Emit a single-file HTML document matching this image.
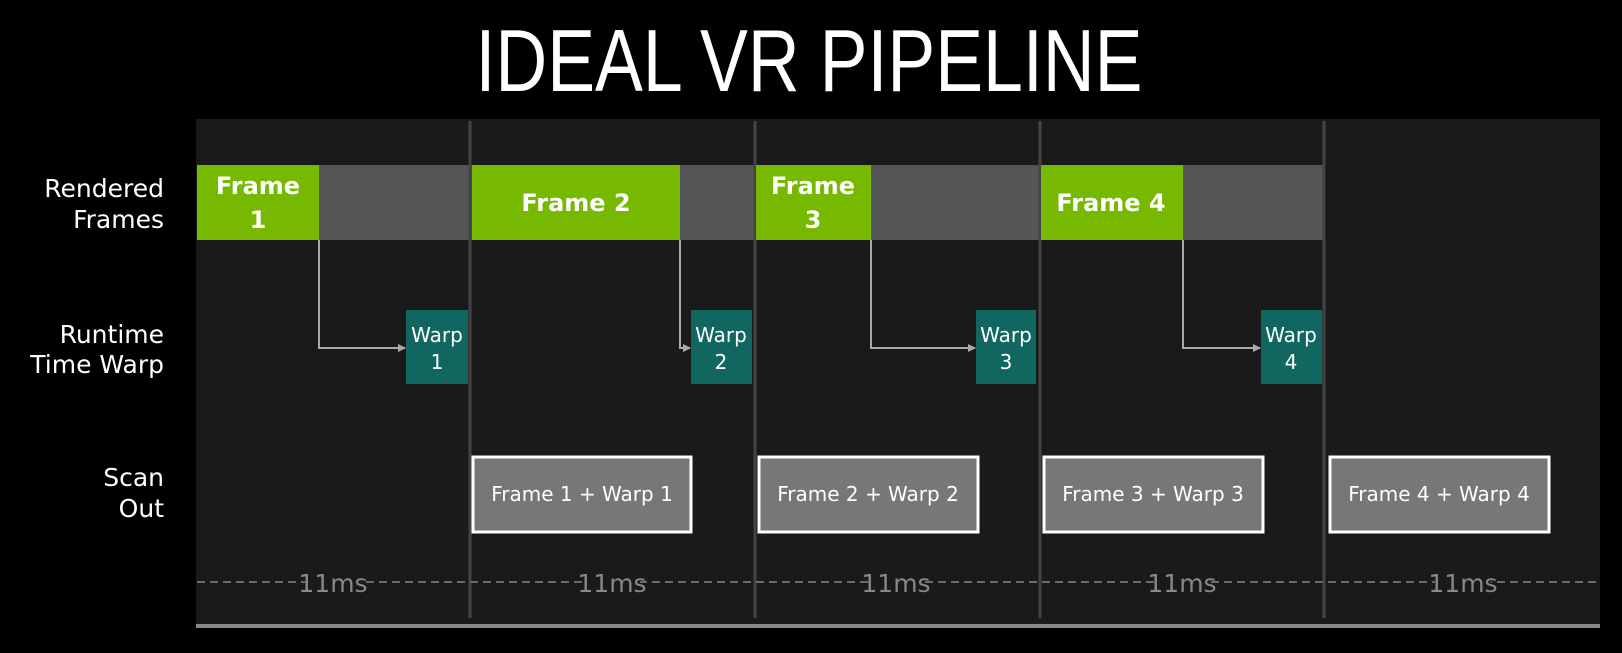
<!DOCTYPE html>
<html><head><meta charset="utf-8"><style>
html,body{margin:0;padding:0;background:#000;}
svg{display:block;}
text{font-family:"DejaVu Sans","Liberation Sans",sans-serif;}
</style></head><body>
<svg width="1622" height="653" viewBox="0 0 1622 653" xmlns="http://www.w3.org/2000/svg">
<defs>
<pattern id="tex" width="4" height="4" patternUnits="userSpaceOnUse">
<rect width="4" height="4" fill="#555"/><rect width="1" height="1" fill="#606060"/><rect x="2" y="2" width="1" height="1" fill="#4c4c4c"/>
</pattern>
<marker id="ah" markerWidth="8" markerHeight="8" refX="7" refY="4" orient="auto" markerUnits="userSpaceOnUse"><path d="M0,0 L8,4 L0,8 Z" fill="#aaa"/></marker>
</defs>
<rect width="1622" height="653" fill="#000"/>
<text x="809" y="91" text-anchor="middle" fill="#fff" font-size="88" textLength="667" lengthAdjust="spacingAndGlyphs" style="font-family:'Liberation Sans',sans-serif">IDEAL VR PIPELINE</text>

<rect x="196" y="119" width="1404" height="507" fill="#1a1a1a"/>
<rect x="196" y="624" width="1404" height="4" fill="#888"/>

<!-- row labels -->
<g fill="#fff" font-size="25" text-anchor="end">
<text x="164" y="197">Rendered</text><text x="164" y="228">Frames</text>
<text x="164" y="343">Runtime</text><text x="164" y="373">Time Warp</text>
<text x="164" y="486">Scan</text><text x="164" y="517">Out</text>
</g>

<!-- rendered row -->
<rect x="319" y="165" width="1004" height="75" fill="url(#tex)"/>
<g fill="#76b900">
<rect x="197" y="165" width="122" height="75"/>
<rect x="472" y="165" width="208" height="75"/>
<rect x="756" y="165" width="115" height="75"/>
<rect x="1041" y="165" width="142" height="75"/>
</g>
<g fill="#fff" font-size="24" font-weight="bold" text-anchor="middle">
<text x="258" y="194">Frame</text><text x="258" y="228">1</text>
<text x="576" y="211">Frame 2</text>
<text x="813" y="194">Frame</text><text x="813" y="228">3</text>
<text x="1111" y="211">Frame 4</text>
</g>

<!-- vertical separators -->
<g stroke="#444" stroke-width="3">
<line x1="470" y1="121" x2="470" y2="618"/>
<line x1="755" y1="121" x2="755" y2="618"/>
<line x1="1040" y1="121" x2="1040" y2="618"/>
<line x1="1324" y1="121" x2="1324" y2="618"/>
</g>
<!-- redraw green over separators where needed -->
<rect x="472" y="165" width="208" height="75" fill="#76b900"/>
<rect x="756" y="165" width="115" height="75" fill="#76b900"/>
<rect x="1041" y="165" width="142" height="75" fill="#76b900"/>
<g fill="#fff" font-size="24" font-weight="bold" text-anchor="middle">
<text x="576" y="211">Frame 2</text>
<text x="813" y="194">Frame</text><text x="813" y="228">3</text>
<text x="1111" y="211">Frame 4</text>
</g>

<!-- connectors -->
<g stroke="#aaa" stroke-width="2" fill="none">
<path d="M319,240 V348 H405" marker-end="url(#ah)"/>
<path d="M680,240 V348 H690" marker-end="url(#ah)"/>
<path d="M871,240 V348 H975" marker-end="url(#ah)"/>
<path d="M1183,240 V348 H1260" marker-end="url(#ah)"/>
</g>

<!-- warp boxes -->
<g fill="#116660">
<rect x="406" y="310" width="62" height="74"/>
<rect x="691" y="310" width="61" height="74"/>
<rect x="976" y="310" width="60" height="74"/>
<rect x="1261" y="310" width="61" height="74"/>
</g>
<g fill="#fff" font-size="20" text-anchor="middle">
<text x="437" y="342">Warp</text><text x="437" y="369">1</text>
<text x="721" y="342">Warp</text><text x="721" y="369">2</text>
<text x="1006" y="342">Warp</text><text x="1006" y="369">3</text>
<text x="1291" y="342">Warp</text><text x="1291" y="369">4</text>
</g>

<!-- scan out -->
<g fill="#777" stroke="#fff" stroke-width="3">
<rect x="473" y="457" width="218" height="75"/>
<rect x="759" y="457" width="219" height="75"/>
<rect x="1044" y="457" width="219" height="75"/>
<rect x="1330" y="457" width="219" height="75"/>
</g>
<g fill="#fff" font-size="20" text-anchor="middle">
<text x="582" y="501">Frame 1 + Warp 1</text>
<text x="868" y="501">Frame 2 + Warp 2</text>
<text x="1153" y="501">Frame 3 + Warp 3</text>
<text x="1439" y="501">Frame 4 + Warp 4</text>
</g>

<!-- timeline -->
<line x1="197" y1="582" x2="1598" y2="582" stroke="#6a6a6a" stroke-width="2" stroke-dasharray="8,5"/>
<g fill="#1a1a1a">
<rect x="305" y="568" width="56" height="28"/>
<rect x="584" y="568" width="56" height="28"/>
<rect x="868" y="568" width="56" height="28"/>
<rect x="1154" y="568" width="56" height="28"/>
<rect x="1435" y="568" width="56" height="28"/>
</g>
<g fill="#888" font-size="25" text-anchor="middle">
<text x="333" y="592">11ms</text>
<text x="612" y="592">11ms</text>
<text x="896" y="592">11ms</text>
<text x="1182" y="592">11ms</text>
<text x="1463" y="592">11ms</text>
</g>
</svg>
</body></html>
